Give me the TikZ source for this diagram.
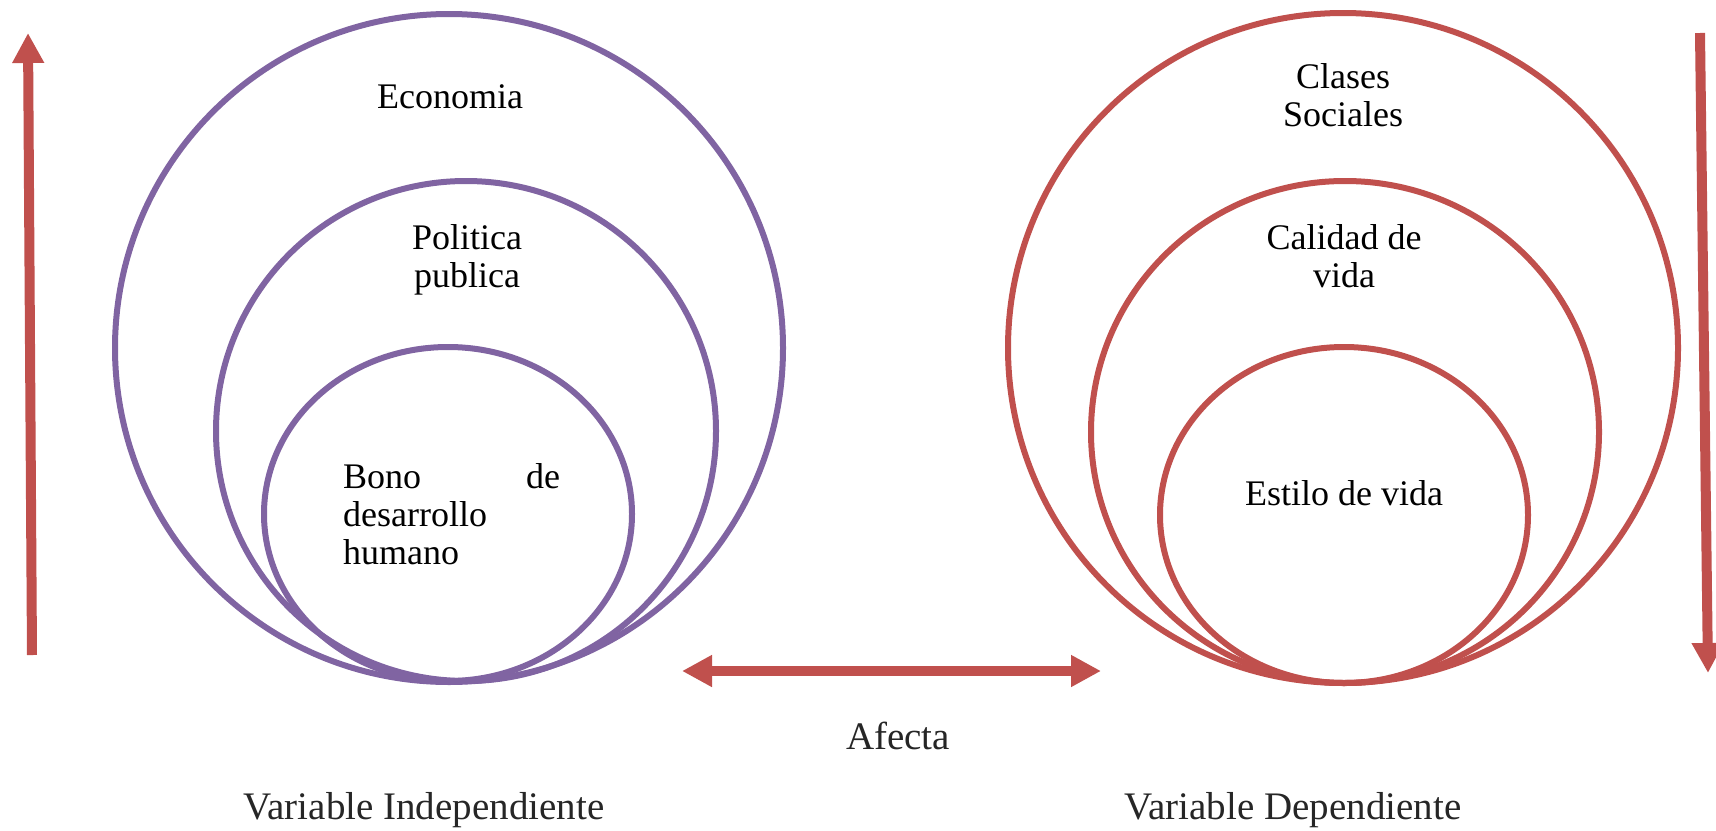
\documentclass[tikz,border=0pt]{standalone}
\usepackage{fontspec}
\setmainfont{Liberation Serif}
\usetikzlibrary{arrows.meta}
\definecolor{vpurple}{HTML}{8064A2}
\definecolor{vred}{HTML}{C0504D}
\tikzset{
  ring/.style={line width=6pt},
  purplering/.style={ring, draw=vpurple},
  redring/.style={ring, draw=vred},
  bigarrow/.style={draw=vred, line width=10pt,
    -{Triangle[width=30pt,length=30pt]}},
  dblarrow/.style={draw=vred, line width=10pt,
    {Triangle[width=30pt,length=30pt]}-{Triangle[width=30pt,length=30pt]}},
  lbl/.style={inner sep=0pt, anchor=base, align=center,
    font=\fontsize{36}{38}\selectfont},
  bottomlbl/.style={inner sep=0pt, anchor=base,
    font=\fontsize{39}{41}\selectfont, text=black!85}
}
\begin{document}
\begin{tikzpicture}[x=1pt,y=-1pt]
\useasboundingbox (0,0) rectangle (1716,830);
% left (purple) circles
\draw[purplering] (449,348) circle [radius=334pt];
\draw[purplering] (466,431) circle [radius=250pt];
\draw[purplering] (448,514) ellipse [x radius=184pt, y radius=167pt];
% right (red) circles
\draw[redring] (1343,348) circle [radius=335pt];
\draw[redring] (1345,432) ellipse [x radius=254pt, y radius=251pt];
\draw[redring] (1344,515) ellipse [x radius=184pt, y radius=168pt];
% labels in circles (base anchor = baseline of the last line)
\node[lbl] (eco) at (450,108) {Economia};
\node[lbl] (pol) at (467,287) {Politica\\publica};
\node[lbl, align=left, anchor=base west] (bono) at (343,564)
  {\hbox to 217pt{Bono\hfill de}\\desarrollo\\humano};
\node[lbl] (cla) at (1343,126) {Clases\\Sociales};
\node[lbl] (cal) at (1344,287) {Calidad de\\vida};
\node[lbl] (est) at (1344,505) {Estilo de vida};
% arrows
\coordinate (upS) at (32,655);
\coordinate (upE) at (28,33);
\draw[bigarrow] (upS) -- (upE);
\coordinate (dnS) at (1700,33);
\coordinate (dnE) at (1708,673);
\draw[bigarrow] (dnS) -- (dnE);
\coordinate (hL) at (682,671);
\coordinate (hR) at (1101,671);
\draw[dblarrow] (hL) -- (hR);
% bottom labels
\node[bottomlbl] (afe) at (898,749) {Afecta};
\node[bottomlbl] (vi) at (424,819) {Variable Independiente};
\node[bottomlbl] (vd) at (1293,819) {Variable Dependiente};
\end{tikzpicture}
\end{document}
